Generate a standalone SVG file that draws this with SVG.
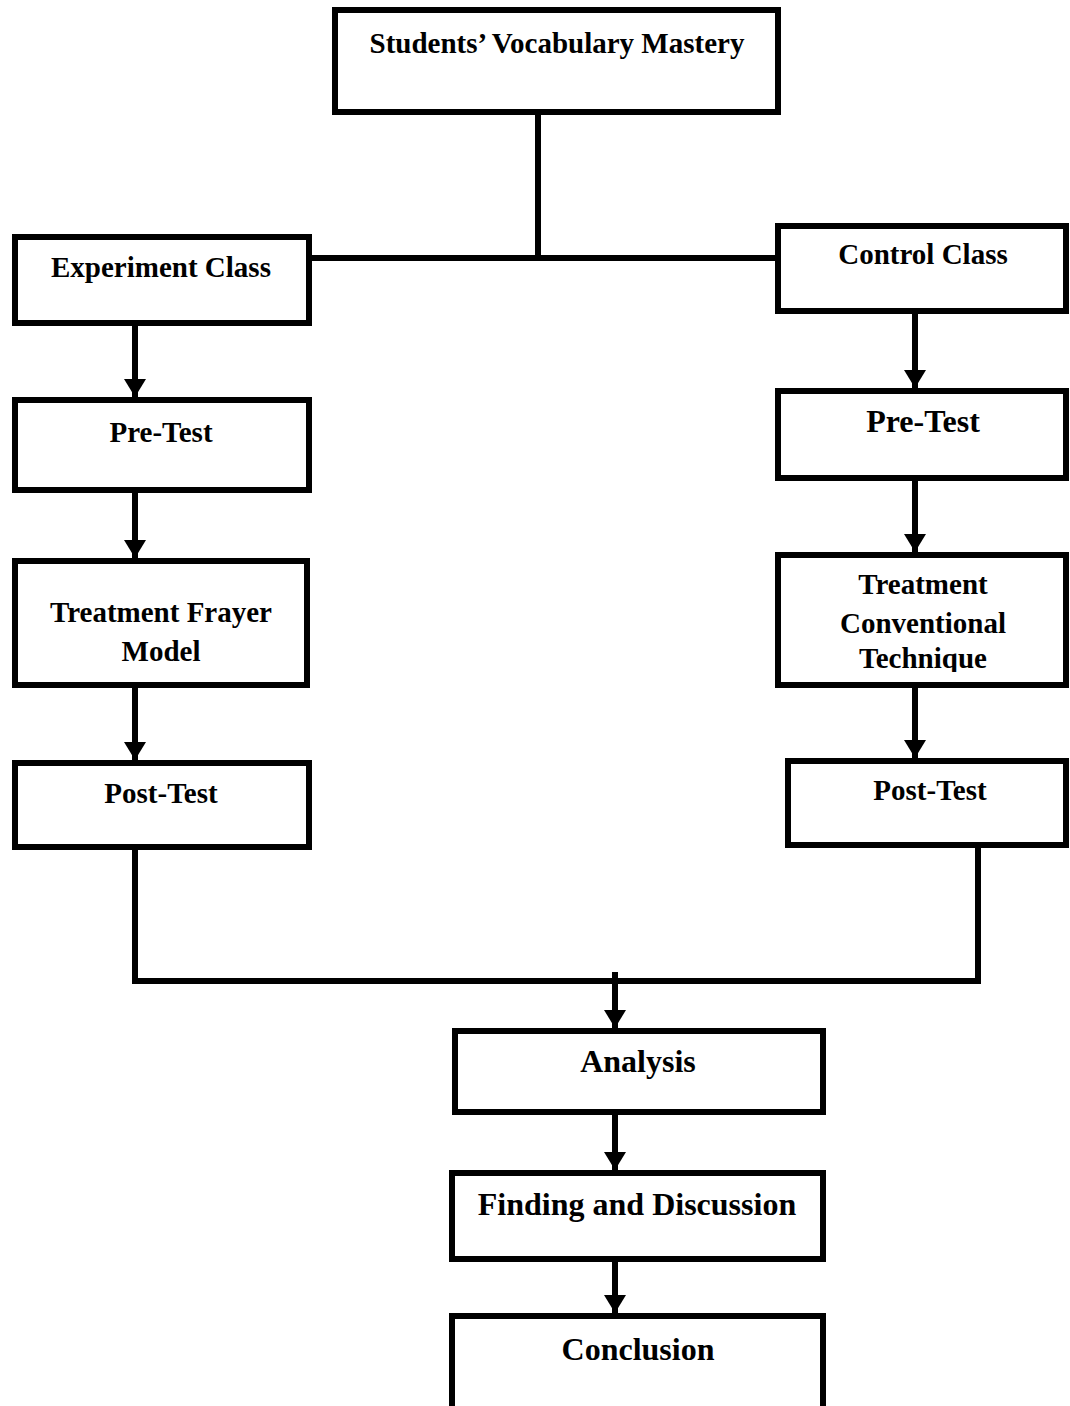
<svg xmlns="http://www.w3.org/2000/svg" width="1070" height="1406" viewBox="0 0 1070 1406">
<style>
.box{fill:#fff;stroke:#000;stroke-width:6}
.t{font-family:"Liberation Serif","Times New Roman",serif;font-weight:bold;font-size:29px;fill:#000;text-anchor:middle}
.big{font-size:32px}
.c{fill:none;stroke:#000;stroke-width:6}
.a{fill:none;stroke:#000;stroke-width:6;marker-end:url(#ah)}
</style>
<defs>
<marker id="ah" viewBox="0 0 18 22" refX="18" refY="11" markerWidth="18" markerHeight="22" markerUnits="userSpaceOnUse" orient="auto">
<path d="M0,0 L18,11 L0,22 z" fill="#000"/>
</marker>
<clipPath id="clipTech"><rect x="775" y="555" width="295" height="117"/></clipPath>
</defs>
<rect width="1070" height="1406" fill="#fff"/>
<g id="connectors">
<path class="c" d="M538,112 V258 M309,258 H778"/>
<path class="a" d="M135,326 V397"/>
<path class="a" d="M135,493 V558"/>
<path class="a" d="M135,688 V760"/>
<path class="a" d="M915,314 V388"/>
<path class="a" d="M915,481 V552"/>
<path class="a" d="M915,688 V758"/>
<path class="c" d="M135,850 V981 H978 V848"/>
<path class="a" d="M615,972 V1028"/>
<path class="a" d="M615,1115 V1170"/>
<path class="a" d="M615,1260 V1313"/>
</g>
<g id="n-top">
<rect class="box" x="335" y="10" width="443" height="102"/>
<text class="t" x="557" y="53">Students’ Vocabulary Mastery</text>
</g>
<g id="n-exp">
<rect class="box" x="15" y="237" width="294" height="86"/>
<text class="t" x="161" y="277">Experiment Class</text>
</g>
<g id="n-ctrl">
<rect class="box" x="778" y="226" width="288" height="85"/>
<text class="t" x="923" y="264">Control Class</text>
</g>
<g id="n-pre-l">
<rect class="box" x="15" y="400" width="294" height="90"/>
<text class="t" x="161" y="442">Pre-Test</text>
</g>
<g id="n-pre-r">
<rect class="box" x="778" y="391" width="288" height="87"/>
<text class="t big" x="923" y="432">Pre-Test</text>
</g>
<g id="n-treat-l">
<rect class="box" x="15" y="561" width="292" height="124"/>
<text class="t" x="161" y="622">Treatment Frayer</text>
<text class="t" x="161" y="661">Model</text>
</g>
<g id="n-treat-r">
<rect class="box" x="778" y="555" width="288" height="130"/>
<g clip-path="url(#clipTech)">
<text class="t" x="923" y="594">Treatment</text>
<text class="t" x="923" y="633">Conventional</text>
<text class="t" x="923" y="668">Technique</text>
</g>
</g>
<g id="n-post-l">
<rect class="box" x="15" y="763" width="294" height="84"/>
<text class="t" x="161" y="803">Post-Test</text>
</g>
<g id="n-post-r">
<rect class="box" x="788" y="761" width="278" height="84"/>
<text class="t" x="930" y="800">Post-Test</text>
</g>
<g id="n-analysis">
<rect class="box" x="455" y="1031" width="368" height="81"/>
<text class="t big" x="638" y="1072">Analysis</text>
</g>
<g id="n-finding">
<rect class="box" x="452" y="1173" width="371" height="86"/>
<text class="t big" x="637" y="1215">Finding and Discussion</text>
</g>
<g id="n-conclusion">
<rect class="box" x="452" y="1316" width="371" height="100"/>
<text class="t big" x="638" y="1360">Conclusion</text>
</g>
</svg>
